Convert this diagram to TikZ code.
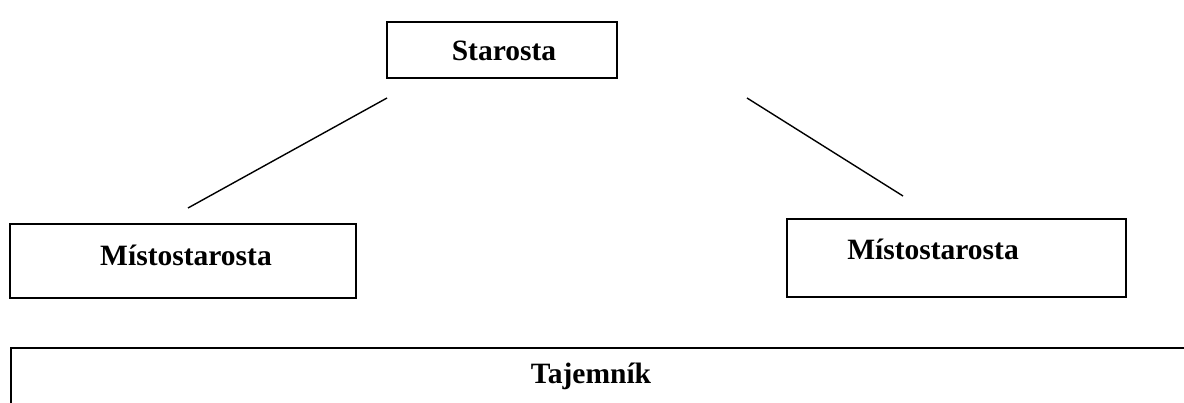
\documentclass[tikz,border=0pt]{standalone}
\usepackage{fontspec}
\setmainfont{Liberation Serif}
\begin{document}
\begin{tikzpicture}[x=1pt,y=-1pt,
  orgbox/.style={draw=black, line width=1.6pt, rectangle, inner sep=0pt, fill=none},
  lbl/.style={font=\fontsize{29.5}{35}\selectfont\bfseries, inner sep=0pt},
  link/.style={draw=black, line width=1.4pt}]
\useasboundingbox (0,0) rectangle (1184,403);
\node[orgbox, minimum width=230pt, minimum height=56pt] (star) at (502,50) {};
\node[lbl] (startxt) at (504,51) {Starosta};
\node[orgbox, minimum width=346pt, minimum height=74pt] (mleft) at (183,261) {};
\node[lbl] (mlefttxt) at (186,255) {Místostarosta};
\node[orgbox, minimum width=339pt, minimum height=78pt] (mright) at (956.5,258) {};
\node[lbl] (mrighttxt) at (933,249) {Místostarosta};
\node[orgbox, minimum width=1200pt, minimum height=80pt, anchor=north west] (taj) at (10,347) {};
\node[lbl] (tajtxt) at (591,376) {Tajemník};
\coordinate (l1) at (387,98);
\coordinate (l2) at (188,208);
\coordinate (r1) at (747,98);
\coordinate (r2) at (903,196);
\draw[link] (l1) -- (l2);
\draw[link] (r1) -- (r2);
\end{tikzpicture}
\end{document}
